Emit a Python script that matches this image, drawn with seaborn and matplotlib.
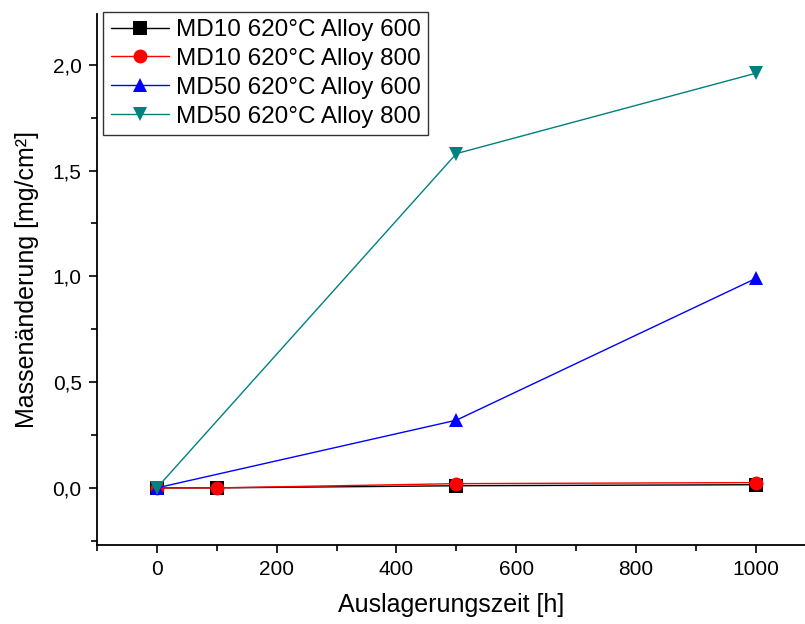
import matplotlib
matplotlib.use("Agg")
import matplotlib.pyplot as plt
import seaborn as sns
import pandas as pd
from matplotlib.ticker import MultipleLocator, FuncFormatter

sns.set_theme(style="white")
plt.rcParams['font.family'] = ['Liberation Sans', 'DejaVu Sans']
plt.rcParams['text.color'] = 'black'
plt.rcParams['axes.labelcolor'] = 'black'
plt.rcParams['xtick.color'] = 'black'
plt.rcParams['ytick.color'] = 'black'

series_names = ["MD10 620°C Alloy 600", "MD10 620°C Alloy 800",
                "MD50 620°C Alloy 600", "MD50 620°C Alloy 800"]
x_md10 = [0, 100, 500, 1000]
md10_600 = [0.0, 0.0, 0.01, 0.015]
md10_800 = [0.0, 0.0, 0.02, 0.025]
x_md50 = [0, 500, 1000]
md50_600 = [0.0, 0.32, 0.99]
md50_800 = [0.0, 1.58, 1.96]

rows = []
for name, xs, ys in [(series_names[0], x_md10, md10_600),
                     (series_names[1], x_md10, md10_800),
                     (series_names[2], x_md50, md50_600),
                     (series_names[3], x_md50, md50_800)]:
    for xv, yv in zip(xs, ys):
        rows.append({"Zeit": xv, "Masse": yv, "Serie": name})
df = pd.DataFrame(rows)

palette = {series_names[0]: "#000000", series_names[1]: "#ff0000",
           series_names[2]: "#0000ff", series_names[3]: "#008080"}
markers = {series_names[0]: "s", series_names[1]: "o",
           series_names[2]: "^", series_names[3]: "v"}

fig = plt.figure(figsize=(8.05, 6.24), dpi=100)
ax = fig.add_axes([0.1205, 0.1266, 0.8795, 0.851])

sns.lineplot(data=df, x="Zeit", y="Masse", hue="Serie", style="Serie",
             palette=palette, markers=markers, dashes=False, ax=ax,
             linewidth=1.0, markersize=10, markeredgewidth=0, sort=False)

ax.set_xlim(-100, 1082)
ax.set_ylim(-0.27, 2.24)
ax.xaxis.set_major_locator(MultipleLocator(200))
ax.xaxis.set_minor_locator(MultipleLocator(100))
ax.yaxis.set_major_locator(MultipleLocator(0.5))
ax.yaxis.set_minor_locator(MultipleLocator(0.25))
ax.yaxis.set_major_formatter(FuncFormatter(lambda v, p: f"{v:.1f}".replace(".", ",")))
ax.tick_params(which="major", direction="out", length=6, width=1.2, color="black",
               labelsize=15, bottom=True, left=True, pad=5)
ax.tick_params(which="minor", direction="out", length=4, width=1.2, color="black",
               bottom=True, left=True)

for s in ["top", "right"]:
    ax.spines[s].set_visible(False)
for s in ["left", "bottom"]:
    ax.spines[s].set_color("black")
    ax.spines[s].set_linewidth(1.3)

ax.set_xlabel("Auslagerungszeit [h]", fontsize=18, labelpad=10)
ax.set_ylabel("Massenänderung [mg/cm²]", fontsize=18, labelpad=10)

leg = ax.legend(loc="upper left", bbox_to_anchor=(0.009, 1.004), fontsize=17.5,
                frameon=True, fancybox=False, edgecolor="black",
                handlelength=2.4, handletextpad=0.3, borderpad=0.3,
                labelspacing=0.28, borderaxespad=0)
leg.get_frame().set_linewidth(1.0)
for t in leg.get_texts():
    t.set_color("black")

fig.savefig("out.png", dpi=100)
